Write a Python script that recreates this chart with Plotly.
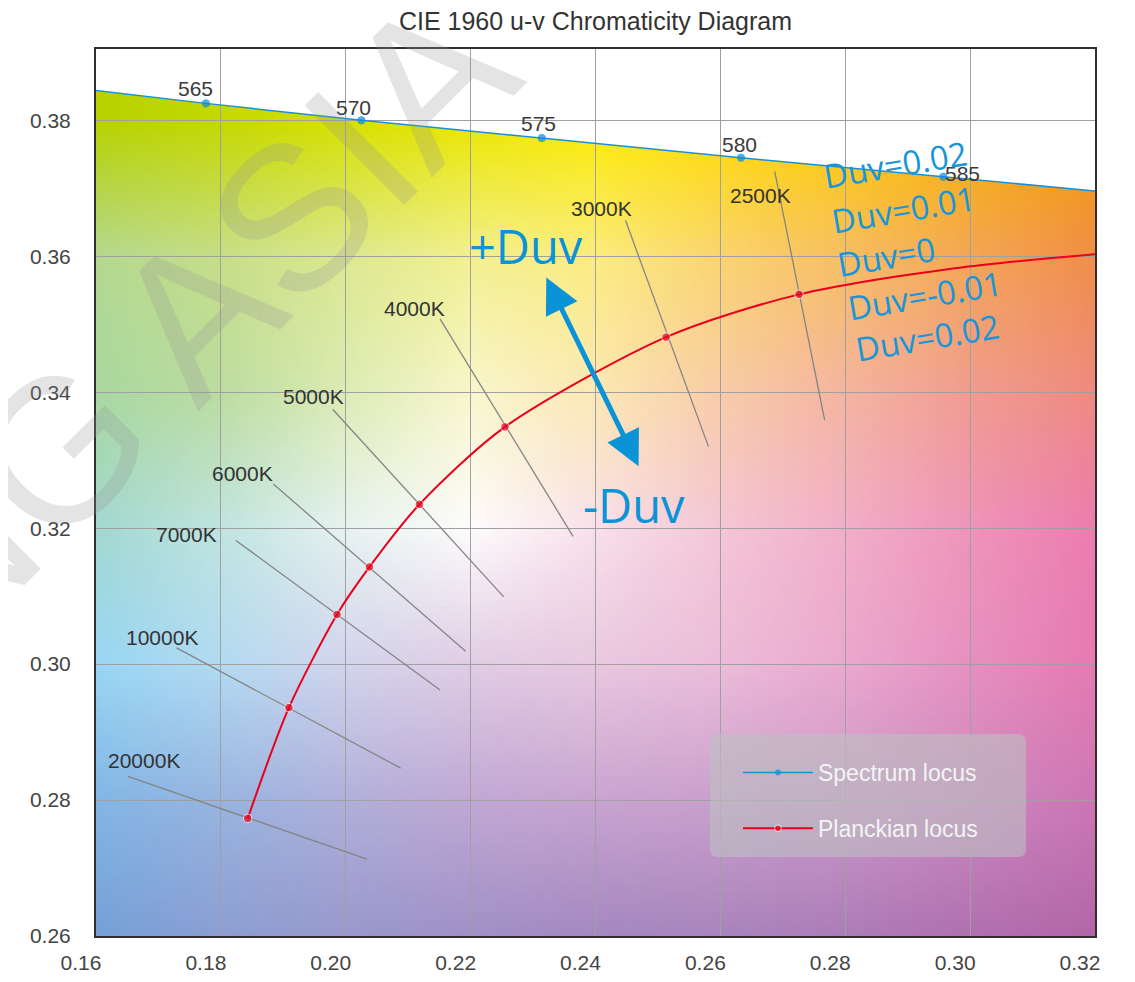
import numpy as np
import plotly.graph_objects as go

# ---------------- data ----------------
# spectrum locus (u, v) with wavelength labels ("" = unlabeled end of line)
spec_wl = ["", "565", "570", "575", "580", "585", ""]
spec_u = [0.1600, 0.1776, 0.2025, 0.2314, 0.2633, 0.2957, 0.3200]
spec_v = [0.3844, 0.3825, 0.3800, 0.3774, 0.3745, 0.3717, 0.3696]

# Planckian locus
cct_labels = ["20000K", "10000K", "7000K", "6000K", "5000K", "4000K", "3000K", "2500K"]
planck_name = cct_labels + ["", ""]
planck_u = [0.1843, 0.1909, 0.1986, 0.2038, 0.2118, 0.2255, 0.2513, 0.2726, 0.2989, 0.3200]
planck_v = [0.2773, 0.2936, 0.3073, 0.3143, 0.3235, 0.3349, 0.3481, 0.3544, 0.3584, 0.3603]

# isotherm lines (start = upper-left end, end = lower-right end)
iso_u0 = [0.1651, 0.1729, 0.1824, 0.1884, 0.1979, 0.2151, 0.2448, 0.2687]
iso_v0 = [0.2835, 0.3024, 0.3182, 0.3265, 0.3375, 0.3508, 0.3653, 0.3725]
iso_u1 = [0.2034, 0.2088, 0.2151, 0.2192, 0.2253, 0.2364, 0.2581, 0.2767]
iso_v1 = [0.2713, 0.2847, 0.2962, 0.3019, 0.3099, 0.3188, 0.3320, 0.3359]

# Duv annotations
duv_text = ["Duv=0.02", "Duv=0.01", "Duv=0", "Duv=-0.01", "Duv=0.02"]
duv_u = [0.2880, 0.2893, 0.2866, 0.2927, 0.2931]
duv_v = [0.3735, 0.3669, 0.3600, 0.3543, 0.3481]
pm_text = ["+Duv", "-Duv"]
pm_u = [0.2288, 0.2461]
pm_v = [0.3615, 0.3234]
arrow_u = [0.2320, 0.2469]
arrow_v = [0.3571, 0.3291]

# axes ticks
x_ticks = [0.16, 0.18, 0.20, 0.22, 0.24, 0.26, 0.28, 0.30, 0.32]
x_ticktext = ["0.16", "0.18", "0.20", "0.22", "0.24", "0.26", "0.28", "0.30", "0.32"]
y_ticks = [0.26, 0.28, 0.30, 0.32, 0.34, 0.36, 0.38]
y_ticktext = ["0.26", "0.28", "0.30", "0.32", "0.34", "0.36", "0.38"]

# background colour anchors (at grid crossings)
bg_u = [0.16, 0.18, 0.20, 0.22, 0.24, 0.26, 0.28, 0.30, 0.32]
bg_v = [0.26, 0.28, 0.30, 0.32, 0.34, 0.36, 0.38, 0.40]
bg_hex = [
    ["#74a0d8", "#8c9ed2", "#9898cc", "#a090c6", "#a488c0", "#a884bc", "#ac7cb8", "#b070b0", "#b266a8"],
    ["#82b6e4", "#98b4e0", "#b0b0da", "#c0a8d4", "#c8a4d0", "#caa0cc", "#cc98c8", "#cc88c0", "#cc76b4"],
    ["#98d6f4", "#b2daf2", "#d2d4ec", "#e0cce4", "#e8c8e0", "#ecbcda", "#eaa8ce", "#e690c0", "#e67ab2"],
    ["#a2d8d0", "#c0e4e0", "#e6f2f0", "#fefcfc", "#f8e0ea", "#f4c6d6", "#f2aec8", "#ee94ba", "#ec7cb0"],
    ["#a8d8a0", "#bcdca0", "#dcecb4", "#f8f6cc", "#fce8b4", "#f8cca8", "#f4b4a0", "#f09c90", "#ee8a80"],
    ["#b4d890", "#c6de88", "#dce890", "#f2f090", "#fbec80", "#fad470", "#f7be62", "#f4a656", "#f08e48"],
    ["#b6d200", "#c4d800", "#d6e000", "#eae600", "#fbea00", "#ffdc00", "#fccc00", "#f6b400", "#f2a000"],
    ["#b6d200", "#c4d800", "#d6e000", "#eae600", "#fbea00", "#ffdc00", "#fccc00", "#f6b400", "#f2a000"],
]

# ---------------- background image (bilinear blend of the anchors) ----------------
def hex2rgb(h):
    return [int(h[i:i + 2], 16) for i in (1, 3, 5)]

anch = np.array([[hex2rgb(c) for c in row] for row in bg_hex], dtype=float)
step = 0.001
fu = np.arange(0.16, 0.32 + step / 2, step)
fv = np.arange(0.26, 0.395 + step / 2, step)
tmp = np.stack([np.stack([np.interp(fu, bg_u, anch[r, :, c]) for c in range(3)], -1)
                for r in range(len(bg_v))])            # rows x fu x 3
img = np.stack([np.stack([np.interp(fv, bg_v, tmp[:, j, c]) for c in range(3)], -1)
                for j in range(len(fu))], 1)            # fv x fu x 3
img = np.clip(np.round(img), 0, 255).astype(np.uint8)

fig = go.Figure()

fig.add_trace(go.Image(z=img, x0=float(fu[0]), dx=step, y0=float(fv[0]), dy=step,
                       zsmooth="fast", hoverinfo="skip", xaxis="x", yaxis="y"))
# white area above the spectrum locus
fig.add_trace(go.Scatter(x=spec_u + [spec_u[-1], spec_u[0]], y=spec_v + [0.40, 0.40],
                         fill="toself", fillcolor="white", mode="lines", line=dict(width=0),
                         hoverinfo="skip", showlegend=False, xaxis="x", yaxis="y"))

# isotherms
iso_x, iso_y = [], []
for a, b, c, d in zip(iso_u0, iso_v0, iso_u1, iso_v1):
    iso_x += [a, c, None]
    iso_y += [b, d, None]
fig.add_trace(go.Scatter(x=iso_x, y=iso_y, mode="lines", line=dict(color="#858585", width=1.3),
                         hoverinfo="skip", showlegend=False, xaxis="x2", yaxis="y2"))

# spectrum locus
fig.add_trace(go.Scatter(x=spec_u, y=spec_v, mode="lines+markers", name="Spectrum locus",
                         legendgroup="a",
                         line=dict(color="#1a90d8", width=1.5),
                         marker=dict(color="#0a8cd6", size=[0 if w == "" else 7.5 for w in spec_wl]),
                         text=spec_wl, xaxis="x2", yaxis="y2"))
# Planckian locus
fig.add_trace(go.Scatter(x=planck_u, y=planck_v, mode="lines+markers", name="Planckian locus",
                         legendgroup="b",
                         line=dict(color="#e8001c", width=2, shape="spline", smoothing=0.8),
                         marker=dict(color="#e8001c", size=[0 if n == "" else 8.5 for n in planck_name]),
                         text=planck_name, xaxis="x2", yaxis="y2"))

ann = []
# wavelength labels
wl_dx = [0, -10, -8, -3, -1, 19, 0]
wl_dy = [0, 15, 13, 15, 13, 3, 0]
for w, u, v, dx, dy in zip(spec_wl, spec_u, spec_v, wl_dx, wl_dy):
    if w:
        ann.append(dict(x=u, y=v, xref="x2", yref="y2", text=w, showarrow=False,
                        xshift=dx, yshift=dy,
                        font=dict(family="Liberation Sans", size=21, color="#3a3a3a")))
# CCT labels
cct_dx = [16, -15, -49, -31, -19, -26, -24, -14]
cct_dy = [16, 10, 6, 11, 13, 10, 12, -24]
for t, u, v, dx, dy in zip(cct_labels, iso_u0, iso_v0, cct_dx, cct_dy):
    ann.append(dict(x=u, y=v, xref="x2", yref="y2", text=t, showarrow=False,
                    xshift=dx, yshift=dy,
                    font=dict(family="Liberation Sans", size=21, color="#333333")))
# Duv labels
for t, u, v in zip(duv_text, duv_u, duv_v):
    ann.append(dict(x=u, y=v, xref="x2", yref="y2", text=t, showarrow=False, textangle=-9.5,
                    font=dict(family="Open Sans", size=33, color="#1896d8")))
for t, u, v in zip(pm_text, pm_u, pm_v):
    ann.append(dict(x=u, y=v, xref="x2", yref="y2", text=t, showarrow=False,
                    font=dict(family="Open Sans", size=47, color="#0b93d8")))
# double arrow
ann.append(dict(x=arrow_u[1], y=arrow_v[1], ax=arrow_u[0], ay=arrow_v[0],
                xref="x2", yref="y2", axref="x2", ayref="y2", text="", showarrow=True,
                arrowhead=2, startarrowhead=2, arrowside="end+start",
                arrowsize=1.4, startarrowsize=1.4, arrowwidth=5, arrowcolor="#0b93d8",
                standoff=0, startstandoff=0))
# watermark
ann.append(dict(x=0.092, y=0.694, xref="paper", yref="paper", text="NG ASIA", showarrow=False,
                xanchor="center", yanchor="middle", textangle=-45,
                font=dict(family="Liberation Sans", size=205, color="rgba(150,150,150,0.26)")))

# legend box (rounded)
x0, x1, y0, y1, rx, ry = 0.6146, 0.9309, 0.0891, 0.2277, 0.008, 0.009
legend_path = (f"M {x0+rx},{y0} L {x1-rx},{y0} Q {x1},{y0} {x1},{y0+ry} L {x1},{y1-ry} "
               f"Q {x1},{y1} {x1-rx},{y1} L {x0+rx},{y1} Q {x0},{y1} {x0},{y1-ry} "
               f"L {x0},{y0+ry} Q {x0},{y0} {x0+rx},{y0} Z")

axis_common = dict(showgrid=True, gridcolor="#a0a0a0", gridwidth=1, zeroline=False,
                   showline=True, linecolor="#352d2d", linewidth=2, mirror=True, ticks="",
                   automargin=False,
                   tickfont=dict(family="Liberation Sans", size=21, color="#444444"))

fig.update_layout(
    width=1119, height=974,
    margin=dict(l=88, r=32, t=41, b=46, autoexpand=False),
    paper_bgcolor="white", plot_bgcolor="rgba(0,0,0,0)",
    title=dict(text="CIE 1960 u-v Chromaticity Diagram", x=0.5, xref="paper",
               y=1 - 13 / 974, yref="container", xanchor="center", yanchor="middle",
               font=dict(family="Liberation Sans", size=25, color="#333333")),
    xaxis=dict(domain=[0, 1], range=[0.16, 0.32], visible=False, anchor="y", automargin=False),
    yaxis=dict(domain=[0, 1], range=[0.26, 0.3905], visible=False, anchor="x",
               scaleanchor=False, automargin=False),
    xaxis2=dict(domain=[0, 1], range=[0.16, 0.32], anchor="y2", tickvals=x_ticks,
                ticktext=x_ticktext, ticklabelshift=-15, ticklabelstandoff=7, **axis_common),
    yaxis2=dict(domain=[0, 1], range=[0.26, 0.3905], anchor="x2", tickvals=y_ticks,
                ticktext=y_ticktext, ticklabelstandoff=19, **axis_common),
    showlegend=True,
    legend=dict(x=0.6426, y=0.2086, xanchor="left", yanchor="top", bgcolor="rgba(0,0,0,0)",
                font=dict(family="Liberation Sans", size=23, color="#f4f4f4"),
                traceorder="grouped", tracegroupgap=23, itemwidth=70),
    shapes=[dict(type="path", path=legend_path, xref="paper", yref="paper",
                 fillcolor="rgba(188,192,194,0.6)", line=dict(width=0), layer="above")],
    annotations=ann,
)

fig.write_html("out.html")
